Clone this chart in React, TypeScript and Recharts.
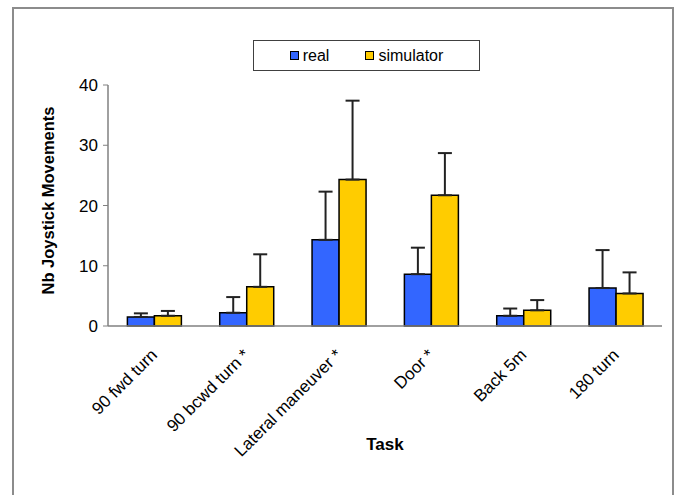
import React from 'react';
import { BarChart, Bar, XAxis, YAxis, ErrorBar, Legend, Label } from 'recharts';

const tasks = ['90 fwd turn', '90 bcwd turn *', 'Lateral maneuver *', 'Door *', 'Back 5m', '180 turn'];
const realMean = [1.5, 2.2, 14.3, 8.6, 1.7, 6.3];
const realSd = [0.6, 2.6, 8.0, 4.4, 1.2, 6.3];
const simMean = [1.7, 6.5, 24.3, 21.7, 2.6, 5.4];
const simSd = [0.8, 5.4, 13.1, 7.0, 1.7, 3.5];
const yTicks = [0, 10, 20, 30, 40];
const boundaryTicks = [0, 1, 2, 3, 4, 5, 6];

const data = tasks.map((t, i) => ({
  task: t,
  idx: i,
  real: realMean[i],
  realErr: [0, realSd[i]],
  simulator: simMean[i],
  simErr: [0, simSd[i]],
}));

const FONT = '"Liberation Sans", Arial, sans-serif';
const BLUE = '#3366FF';
const YELLOW = '#FFCC00';

const CatTick = (props: any) => {
  const { x, y, payload } = props;
  return (
    <g transform={`translate(${x + 4},${y + 22}) rotate(-45)`}>
      <text x={0} y={0} textAnchor="end" fontSize={17} fontFamily={FONT} fill="#000">
        {payload.value}
      </text>
    </g>
  );
};

const YLabel = (props: any) => {
  const vb = props.viewBox || { x: 0, y: 0, width: 0, height: 0 };
  return (
    <text
      transform={`translate(${vb.x + 48},${vb.y + vb.height / 2 - 5}) rotate(-90)`}
      textAnchor="middle"
      dominantBaseline="central"
      fontSize={16.5}
      fontWeight="bold"
      fontFamily={FONT}
      fill="#000"
    >
      Nb  Joystick Movements
    </text>
  );
};

const LegendBox = () => (
  <div
    style={{
      display: 'flex',
      alignItems: 'center',
      justifyContent: 'center',
      boxSizing: 'border-box',
      width: 227,
      height: 31,
      border: '1px solid #404040',
      background: '#fff',
      fontFamily: FONT,
      fontSize: 16,
      color: '#000',
    }}
  >
    <span style={{ display: 'inline-block', width: 7, height: 7, background: BLUE, border: '1px solid #000', marginRight: 4 }} />
    <span style={{ marginRight: 36 }}>real</span>
    <span style={{ display: 'inline-block', width: 7, height: 7, background: YELLOW, border: '1px solid #000', marginRight: 4 }} />
    <span>simulator</span>
  </div>
);

export default function App() {
  return (
    <div style={{ position: 'absolute', left: 0, top: 0, width: 677, height: 495, overflow: 'hidden', background: '#fff' }}>
      <div
        style={{
          position: 'absolute',
          left: 12,
          top: 7,
          width: 662,
          height: 600,
          boxSizing: 'border-box',
          border: '2px solid #8c8c8c',
        }}
      />
      <div style={{ position: 'absolute', left: 0, top: 0 }}>
        <BarChart
          width={677}
          height={495}
          data={data}
          margin={{ top: 85, right: 15, bottom: 0, left: 0 }}
          barCategoryGap="21%"
          barGap={0}
        >
          <XAxis
            xAxisId="b"
            dataKey="idx"
            type="number"
            domain={[0, 6]}
            allowDataOverflow
            ticks={boundaryTicks}
            tick={false}
            axisLine={false}
            tickLine={{ stroke: '#808080' }}
            tickSize={5}
            height={0}
          />
          <XAxis
            xAxisId="c"
            dataKey="task"
            interval={0}
            tickLine={false}
            axisLine={{ stroke: '#808080', strokeWidth: 1.5 }}
            tick={<CatTick />}
            height={169}
          >
            <Label
              value="Task"
              position="insideTop"
              offset={112}
              fontSize={17}
              fontWeight="bold"
              fontFamily={FONT}
              fill="#000"
            />
          </XAxis>
          <YAxis
            domain={[0, 40]}
            ticks={yTicks}
            interval={0}
            width={108}
            tickSize={5}
            tickMargin={5}
            axisLine={{ stroke: '#808080', strokeWidth: 1.5 }}
            tickLine={{ stroke: '#808080' }}
            tick={{ fontSize: 17, fontFamily: FONT, fill: '#000' }}
            label={<YLabel />}
          />
          <Legend
            verticalAlign="middle"
            layout="horizontal"
            content={<LegendBox />}
            wrapperStyle={{ position: 'absolute', left: 253, top: 40, width: 227, height: 31 }}
          />
          <Bar xAxisId="c" dataKey="real" fill={BLUE} stroke="#000" strokeWidth={1.5} isAnimationActive={false}>
            <ErrorBar dataKey="realErr" width={7} stroke="#222" strokeWidth={2} />
          </Bar>
          <Bar xAxisId="c" dataKey="simulator" fill={YELLOW} stroke="#000" strokeWidth={1.5} isAnimationActive={false}>
            <ErrorBar dataKey="simErr" width={7} stroke="#222" strokeWidth={2} />
          </Bar>
        </BarChart>
      </div>
    </div>
  );
}
